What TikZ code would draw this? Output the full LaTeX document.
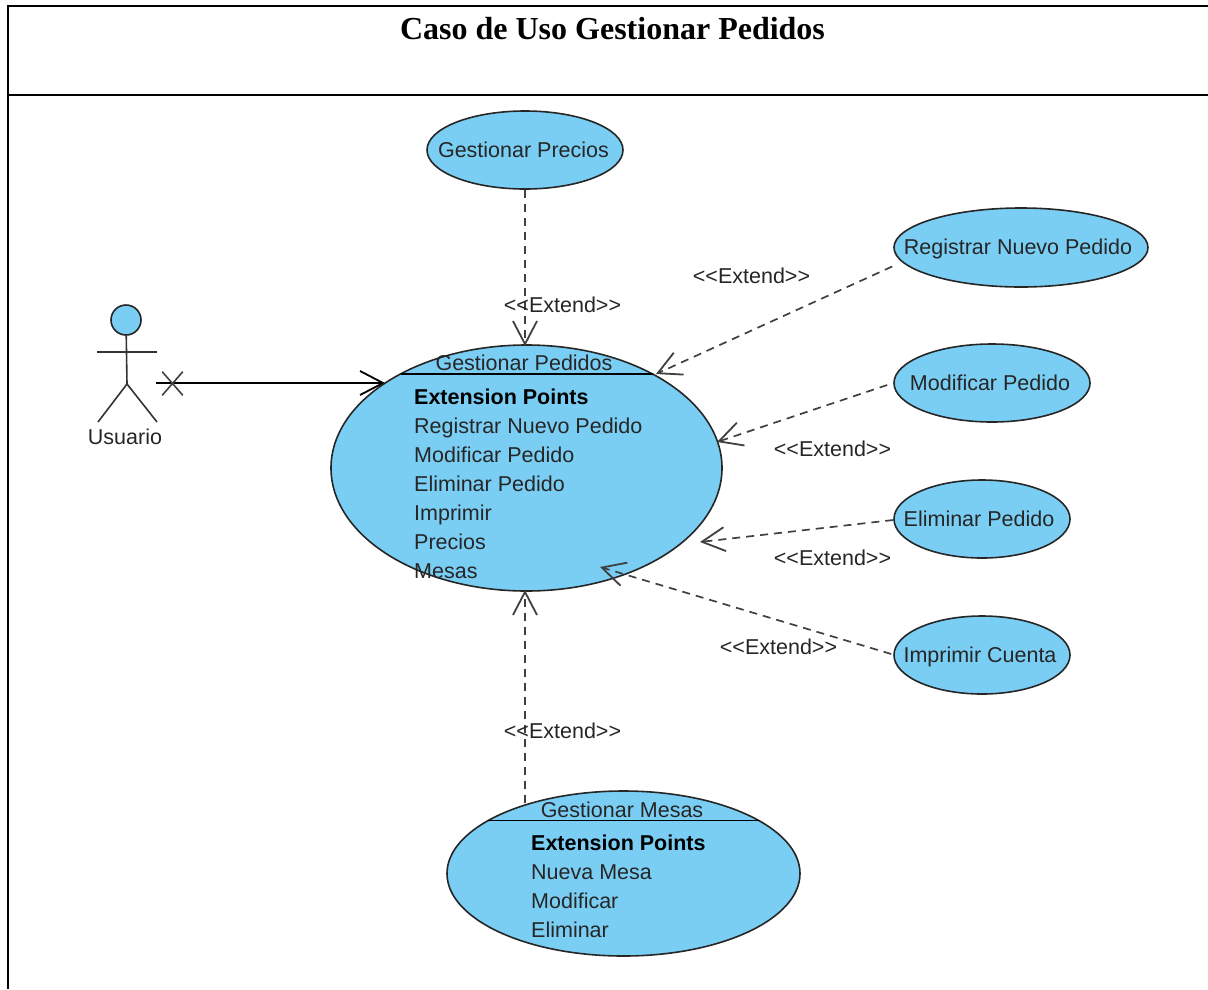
\documentclass[tikz,border=0pt]{standalone}
\usepackage{fontspec}
\setmainfont{Liberation Sans}
\newfontfamily\titlefont{Liberation Serif}
\usetikzlibrary{shapes.geometric}
\usetikzlibrary{shapes.misc}
\usetikzlibrary{arrows.meta}
\usepackage{xcolor}
\definecolor{usecaseblue}{HTML}{7ACEF4}
\definecolor{inkgrey}{HTML}{262626}
\newcommand{\extendtag}{{<}{<}Extend{>}{>}}
\newcommand{\extheading}{\textcolor{black}{\textbf{Extension Points}}}
\tikzset{
    usecase/.style={draw=black!85, ellipse, fill=usecaseblue, line width=1.6pt, inner sep=0pt},
    umltext/.style={font=\fontsize{21.5pt}{29pt}\selectfont, text=inkgrey, inner sep=0pt},
    extlist/.style={umltext, align=left, anchor=north west},
    extendline/.style={dashed, dash pattern=on 8pt off 6pt, line width=1.7pt, draw=black!75, -{Straight Barb[length=23pt,width=24pt,line width=1.8pt]}},
    assocline/.style={line width=1.8pt, -{Straight Barb[length=23pt,width=24pt,line width=1.8pt]}},
    actorline/.style={line width=1.6pt, draw=black!80},
    frameline/.style={line width=2pt}
}

\begin{document}
\begin{tikzpicture}[x=1pt,y=-1pt]
            \useasboundingbox (0,0) rectangle (1208,989);

            \draw[frameline] (8,989) -- (8,6) -- (1208,6);
            \draw[frameline] (8,95) -- (1208,95);
            \node[font=\titlefont\bfseries\fontsize{32pt}{34pt}\selectfont, inner sep=0pt] (title) at (612.5,29) {Caso de Uso Gestionar Pedidos};

            \coordinate (assocstart) at (156,383);
            \coordinate (assoctip) at (385,383);
            \draw[assocline] (assocstart) -- (assoctip);
            \node[draw=black!75, cross out, line width=1.6pt, minimum width=19pt, minimum height=22pt, inner sep=0pt] (assoccross) at (172.5,383.5) {};

            \node[draw=black!85, circle, fill=usecaseblue, line width=1.6pt, minimum size=30pt, inner sep=0pt] (head) at (126,320) {};
            \coordinate (hip) at (127,384);
            \coordinate (armL) at (97,352);
            \coordinate (armR) at (157,352);
            \coordinate (footL) at (98,422);
            \coordinate (footR) at (157,422);
            \draw[actorline] (head) -- (hip);
            \draw[actorline] (armL) -- (armR);
            \draw[actorline] (footL) -- (hip) -- (footR);
            \node[umltext] (usuario) at (125,437) {Usuario};

            \node[usecase, minimum width=391pt, minimum height=246pt] (pedidos) at (526.5,468) {};
            \node[usecase, minimum width=353pt, minimum height=165pt] (mesas) at (623.5,873.5) {};
            \node[usecase, minimum width=196pt, minimum height=78pt] (precios) at (525,150) {};
            \node[usecase, minimum width=254pt, minimum height=79pt] (registrar) at (1021,247.5) {};
            \node[usecase, minimum width=196pt, minimum height=78pt] (modificar) at (992,383) {};
            \node[usecase, minimum width=176pt, minimum height=78pt] (eliminar) at (982,519) {};
            \node[usecase, minimum width=176pt, minimum height=78pt] (imprimir) at (982,655) {};

            \node[umltext] at (523.5,150) {Gestionar Precios};
            \node[umltext] at (1018,248.5) {Registrar Nuevo Pedido};
            \node[umltext] at (990,383) {Modificar Pedido};
            \node[umltext] at (979,519) {Eliminar Pedido};
            \node[umltext] at (980,656.5) {Imprimir Cuenta};

            \coordinate (pedidosL) at (400.5,374);
            \coordinate (pedidosR) at (652.5,374);
            \coordinate (mesasL) at (488,820.5);
            \coordinate (mesasR) at (758.5,820.5);
            \draw[line width=1.6pt] (pedidosL) -- (pedidosR);
            \draw[line width=1.6pt] (mesasL) -- (mesasR);

            \node[umltext] (pedidosname) at (524,363) {Gestionar Pedidos};
            \node[extlist] (pedidoslist) at (414,389) {\extheading\\Registrar Nuevo Pedido\\Modificar Pedido\\Eliminar Pedido\\Imprimir\\Precios\\Mesas};
            \node[umltext] (mesasname) at (622,810) {Gestionar Mesas};
            \node[extlist] (mesaslist) at (531,835) {\extheading\\Nueva Mesa\\Modificar\\Eliminar};

            \coordinate (tipprecios) at (525,346);
            \coordinate (tipregistrar) at (656,374);
            \coordinate (tipmodificar) at (717,442);
            \coordinate (tipeliminar) at (700,542);
            \coordinate (tipimprimir) at (600,567);
            \coordinate (tipmesas) at (525,590);
            \coordinate (startmesas) at (525,803);

            \draw[extendline] (precios) -- (tipprecios);
            \draw[extendline] ([xshift=-1pt,yshift=-19pt]registrar.west) -- (tipregistrar);
            \draw[extendline] ([xshift=-6pt,yshift=-2pt]modificar.west) -- (tipmodificar);
            \draw[extendline] ([yshift=-1pt]eliminar.west) -- (tipeliminar);
            \draw[extendline] ([xshift=-2pt,yshift=1pt]imprimir.west) -- (tipimprimir);
            \draw[extendline] (startmesas) -- (tipmesas);

            \node[umltext] (extprecios) at (562.5,305) {\extendtag};
            \node[umltext] (extregistrar) at (751.5,276) {\extendtag};
            \node[umltext] (extmodificar) at (832.5,449) {\extendtag};
            \node[umltext] (exteliminar) at (832.5,558) {\extendtag};
            \node[umltext] (extimprimir) at (778.5,647) {\extendtag};
            \node[umltext] (extmesas) at (562.5,731) {\extendtag};
        \end{tikzpicture}
\end{document}
